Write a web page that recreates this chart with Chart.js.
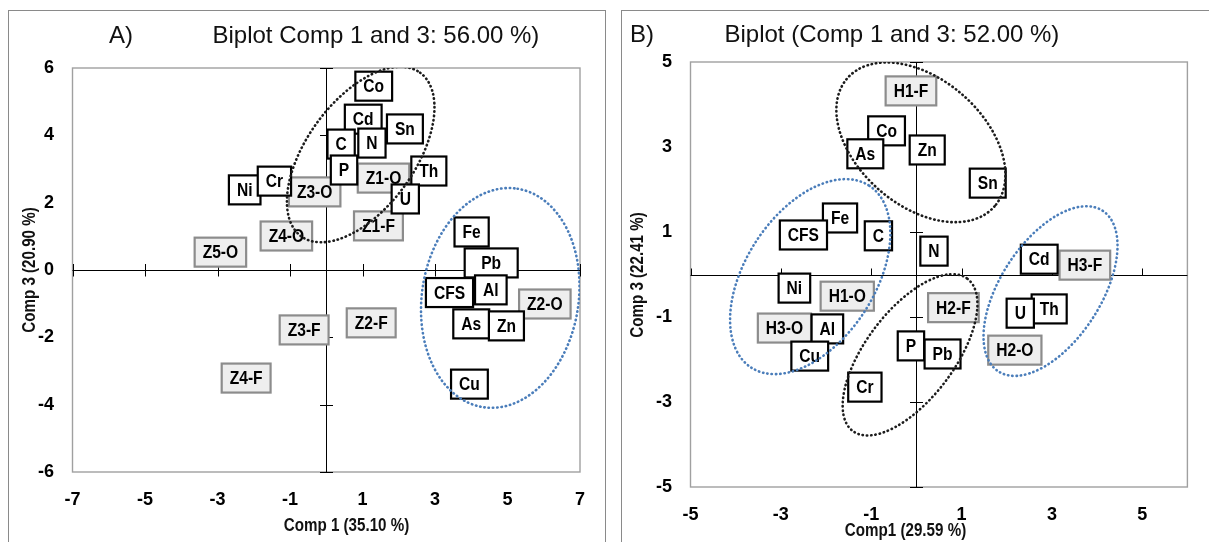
<!DOCTYPE html>
<html>
<head>
<meta charset="utf-8">
<script src="https://cdn.jsdelivr.net/npm/chart.js@4"></script>
<style>
  body { margin: 0; width: 1209px; height: 542px; overflow: hidden; background: #fff; position: relative; }
  .frame { position: absolute; top: 10px; height: 600px; border: 1px solid #8a8a8a; box-sizing: border-box; }
  #frameA { left: 8px; width: 598px; }
  #frameB { left: 621px; width: 700px; }
  canvas { position: absolute; top: 0; }
  #chartA { left: 0; }
  #chartB { left: 605px; }
</style>
</head>
<body>
<div class="frame" id="frameA"></div>
<div class="frame" id="frameB"></div>
<canvas id="chartA" width="605" height="542"></canvas>
<canvas id="chartB" width="604" height="542"></canvas>
<script>
// ---- Panel A data ----
const xTicksA = [-7, -5, -3, -1, 1, 3, 5, 7];
const yTicksA = [6, 4, 2, 0, -2, -4, -6];
const varNamesA = ["Co", "Cd", "Sn", "C", "N", "P", "Th", "U", "Ni", "Cr", "Fe", "Pb", "CFS", "Al", "As", "Zn", "Cu"];
const varXA = [1.31, 1.02, 2.17, 0.41, 1.26, 0.49, 2.83, 2.18, -2.25, -1.43, 4.01, 4.55, 3.40, 4.54, 4.00, 4.97, 3.95];
const varYA = [5.46, 4.48, 4.19, 3.74, 3.77, 2.97, 2.94, 2.11, 2.38, 2.64, 1.13, 0.21, -0.67, -0.59, -1.60, -1.66, -3.39];
const siteNamesA = ["Z1-O", "Z3-O", "Z4-O", "Z1-F", "Z5-O", "Z2-O", "Z3-F", "Z2-F", "Z4-F"];
const siteXA = [1.58, -0.32, -1.10, 1.44, -2.92, 6.03, -0.61, 1.24, -2.21];
const siteYA = [2.73, 2.32, 1.01, 1.31, 0.53, -1.01, -1.78, -1.57, -3.21];

// ---- Panel B data ----
const xTicksB = [-5, -3, -1, 1, 3, 5];
const yTicksB = [5, 3, 1, -1, -3, -5];
const varNamesB = ["Co", "As", "Zn", "Sn", "Fe", "CFS", "C", "N", "Cd", "Ni", "Th", "U", "Al", "Cu", "P", "Pb", "Cr"];
const varXB = [-0.66, -1.13, 0.24, 1.58, -1.69, -2.50, -0.84, 0.39, 2.72, -2.70, 2.94, 2.30, -1.97, -2.36, -0.12, 0.58, -1.14];
const varYB = [3.38, 2.84, 2.93, 2.15, 1.33, 0.93, 0.91, 0.55, 0.36, -0.32, -0.81, -0.91, -1.28, -1.92, -1.68, -1.87, -2.65];
const siteNamesB = ["H1-F", "H3-F", "H1-O", "H2-F", "H3-O", "H2-O"];
const siteXB = [-0.12, 3.73, -1.53, 0.82, -2.92, 2.18];
const siteYB = [4.32, 0.22, -0.51, -0.78, -1.26, -1.78];

// group outlines (centre in data units, semi-axes in x units, rotation in degrees)
const BLACK = "#1c1c1c", BLUE = "#4a7dba";
const groupsA = [
  { cx: 0.95, cy: 3.43, a: 2.79, b: 1.49, rot: -54, color: BLACK },
  { cx: 4.80, cy: -0.83, a: 3.05, b: 2.16, rot: -81, color: BLUE }
];
const groupsB = [
  { cx: 0.10, cy: 3.11, a: 2.16, b: 1.40, rot: 41, color: BLACK },
  { cx: -2.35, cy: -0.05, a: 2.40, b: 1.43, rot: -57, color: BLUE },
  { cx: -0.14, cy: -1.89, a: 2.11, b: 0.98, rot: -53, color: BLACK },
  { cx: 2.97, cy: -0.39, a: 2.12, b: 1.11, rot: -57, color: BLUE }
];

const SANS = '"Liberation Sans", Arial, sans-serif';
const NARROW = 0.82; // squeeze Liberation Sans to look like Arial Narrow

const varBox = { fill: "#ffffff", stroke: "#000000" };
const siteBox = { fill: "#eeeeee", stroke: "#8c8c8c" };

function pairs(xs, ys) {
  return xs.map((x, i) => ({ x: x, y: ys[i] }));
}

// narrow bold text centred on (x, y)
function narrowText(ctx, text, x, y, size, angle) {
  ctx.save();
  ctx.font = "bold " + size + "px " + SANS;
  ctx.textAlign = "center";
  ctx.textBaseline = "middle";
  ctx.translate(x, y);
  if (angle) ctx.rotate(angle);
  ctx.scale(NARROW, 1);
  ctx.fillText(text, 0, 0);
  ctx.restore();
}

function drawBox(ctx, x, y, text, style, minWidth) {
  ctx.font = "bold 19px " + SANS;
  const w = Math.max(ctx.measureText(text).width * NARROW + 16, minWidth[text] || 0);
  const h = 29;
  ctx.fillStyle = style.fill;
  ctx.fillRect(x - w / 2, y - h / 2, w, h);
  ctx.lineWidth = 2.2;
  ctx.strokeStyle = style.stroke;
  ctx.strokeRect(x - w / 2, y - h / 2, w, h);
  ctx.fillStyle = "#000";
  narrowText(ctx, text, x, y + 1, 19);
}

const biplot = {
  id: "biplot",
  beforeDatasetsDraw(chart, args, opts) {
    const ctx = chart.ctx, area = chart.chartArea;
    const xs = chart.scales.x, ys = chart.scales.y;
    ctx.save();
    // plot frame
    ctx.strokeStyle = "#a0a0a0";
    ctx.lineWidth = 1.4;
    ctx.strokeRect(area.left, area.top, area.right - area.left, area.bottom - area.top);
    // axes through zero
    const x0 = Math.round(xs.getPixelForValue(0)) + 0.5;
    const y0 = Math.round(ys.getPixelForValue(0)) + 0.5;
    ctx.strokeStyle = "#000";
    ctx.lineWidth = 1;
    ctx.beginPath();
    ctx.moveTo(area.left, y0); ctx.lineTo(area.right, y0);
    ctx.moveTo(x0, area.top); ctx.lineTo(x0, area.bottom);
    xs.ticks.forEach(t => {
      const px = Math.round(xs.getPixelForValue(t.value)) + 0.5;
      ctx.moveTo(px, y0 - opts.xTickUp); ctx.lineTo(px, y0 + opts.xTickDown);
    });
    ys.ticks.forEach(t => {
      const py = Math.round(ys.getPixelForValue(t.value)) + 0.5;
      ctx.moveTo(x0 - 6.5, py); ctx.lineTo(x0 + 6.5, py);
    });
    ctx.stroke();
    ctx.restore();
  },
  afterDatasetsDraw(chart, args, opts) {
    const ctx = chart.ctx, area = chart.chartArea;
    const xs = chart.scales.x, ys = chart.scales.y;
    ctx.save();
    chart.data.datasets.forEach((ds, i) => {
      chart.getDatasetMeta(i).data.forEach((pt, j) => {
        drawBox(ctx, pt.x, pt.y, ds.labels[j], ds.box, opts.minWidth || {});
      });
    });
    // dotted group outlines
    const ux = Math.abs(xs.getPixelForValue(1) - xs.getPixelForValue(0));
    ctx.beginPath();
    ctx.rect(area.left, area.top, area.right - area.left, area.bottom - area.top);
    ctx.clip();
    ctx.lineWidth = 2.6;
    ctx.lineCap = "round";
    ctx.setLineDash([0.4, 3.9]);
    opts.groups.forEach(g => {
      ctx.strokeStyle = g.color;
      ctx.beginPath();
      ctx.ellipse(xs.getPixelForValue(g.cx), ys.getPixelForValue(g.cy), g.a * ux, g.b * ux,
        g.rot * Math.PI / 180, 0, Math.PI * 2);
      ctx.stroke();
    });
    ctx.restore();
  },
  afterDraw(chart, args, opts) {
    const ctx = chart.ctx;
    ctx.save();
    ctx.fillStyle = "#111";
    ctx.textBaseline = "alphabetic";
    ctx.textAlign = "left";
    ctx.font = "24px " + SANS;
    ctx.fillText(opts.letter, opts.letterX, opts.baseline);
    ctx.fillText(opts.title, opts.titleX, opts.baseline);
    narrowText(ctx, opts.xTitle, opts.xTitlePos[0], opts.xTitlePos[1], 18.5);
    narrowText(ctx, opts.yTitle, opts.yTitlePos[0], opts.yTitlePos[1], 18.5, -Math.PI / 2);
    ctx.restore();
  }
};

function makeChart(id, cfg) {
  const tickFont = { family: SANS, size: 18, weight: "bold" };
  return new Chart(document.getElementById(id), {
    type: "scatter",
    data: {
      datasets: [
        { data: pairs(cfg.siteX, cfg.siteY), labels: cfg.siteNames, box: siteBox, pointRadius: 0 },
        { data: pairs(cfg.varX, cfg.varY), labels: cfg.varNames, box: varBox, pointRadius: 0 }
      ]
    },
    options: {
      responsive: false,
      animation: false,
      devicePixelRatio: 1,
      events: [],
      layout: { padding: cfg.padding },
      plugins: {
        legend: { display: false },
        tooltip: { enabled: false },
        biplot: cfg.panel
      },
      scales: {
        x: {
          type: "linear", min: cfg.xMin, max: cfg.xMax,
          grid: { display: false, drawTicks: false },
          border: { display: false },
          ticks: { font: tickFont, color: "#000", padding: 17.5, maxRotation: 0, autoSkip: false },
          afterBuildTicks: s => { s.ticks = cfg.xTicks.map(v => ({ value: v })); },
          afterFit: s => { s.height = cfg.xAxisH; }
        },
        y: {
          type: "linear", min: cfg.yMin, max: cfg.yMax,
          grid: { display: false, drawTicks: false },
          border: { display: false },
          ticks: { font: tickFont, color: "#000", padding: 18.5, autoSkip: false },
          afterBuildTicks: s => { s.ticks = cfg.yTicks.map(v => ({ value: v })); },
          afterFit: s => { s.width = cfg.yAxisW; }
        }
      }
    },
    plugins: [biplot]
  });
}

const chartA = makeChart("chartA", {
  xMin: -7, xMax: 7, yMin: -6, yMax: 6,
  xTicks: xTicksA, yTicks: yTicksA,
  varNames: varNamesA, varX: varXA, varY: varYA,
  siteNames: siteNamesA, siteX: siteXA, siteY: siteYA,
  yAxisW: 72.5, xAxisH: 70,
  padding: { left: 0, right: 25, top: 68, bottom: 0 },
  panel: {
    groups: groupsA, minWidth: { Pb: 53 },
    xTickUp: 6.5, xTickDown: 6,
    letter: "A)", letterX: 109, title: "Biplot Comp 1 and 3: 56.00 %)", titleX: 212.5, baseline: 43,
    xTitle: "Comp 1 (35.10 %)", xTitlePos: [346.5, 526],
    yTitle: "Comp 3 (20.90 %)", yTitlePos: [30, 270]
  }
});

const chartB = makeChart("chartB", {
  xMin: -5, xMax: 6, yMin: -5, yMax: 5,
  xTicks: xTicksB, yTicks: yTicksB,
  varNames: varNamesB, varX: varXB, varY: varYB,
  siteNames: siteNamesB, siteX: siteXB, siteY: siteYB,
  yAxisW: 85.5, xAxisH: 55,
  padding: { left: 0, right: 21.6, top: 62, bottom: 0 },
  panel: {
    groups: groupsB, minWidth: {},
    xTickUp: 7, xTickDown: 0,
    letter: "B)", letterX: 25, title: "Biplot (Comp 1 and 3: 52.00 %)", titleX: 119.5, baseline: 42,
    xTitle: "Comp1 (29.59 %)", xTitlePos: [300.5, 530.5],
    yTitle: "Comp 3 (22.41 %)", yTitlePos: [33, 275]
  }
});
</script>
</body>
</html>
